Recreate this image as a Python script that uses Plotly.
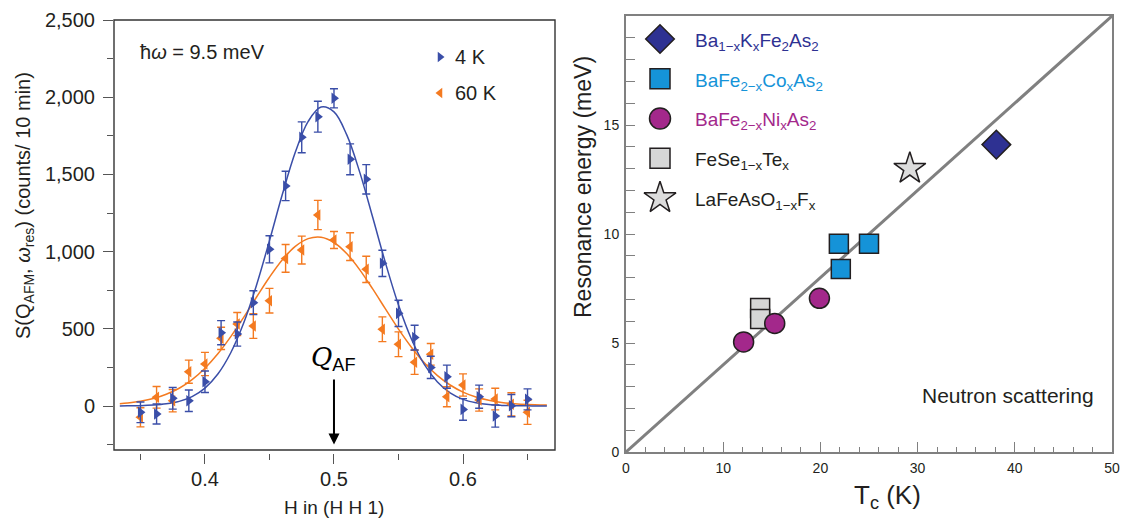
import plotly.graph_objects as go

W, H = 1123, 519

# ---------------- Left panel data ----------------
h_vals = [0.35, 0.3625, 0.375, 0.3875, 0.4, 0.4125, 0.425, 0.4375, 0.45, 0.4625,
          0.475, 0.4875, 0.5, 0.5125, 0.525, 0.5375, 0.55, 0.5625, 0.575, 0.5875,
          0.6, 0.6125, 0.625, 0.6375, 0.65]
s_4k = [-41, -52, 50, 34, 157, 475, 466, 669, 1015, 1425,
        1740, 1874, 1993, 1598, 1468, 924, 600, 443, 250, 190,
        -22, 60, -65, 2, 43]
err_4k = [67, 65, 70, 70, 70, 78, 78, 77, 88, 95,
          100, 100, 62, 100, 95, 85, 85, 80, 72, 75,
          70, 75, 72, 72, 68]
s_60k = [-73, 56, 34, 222, 272, 438, 531, 518, 682, 956,
         1010, 1237, 1075, 1032, 885, 497, 400, 283, 335, 60,
         136, 39, 45, 11, -41]
err_60k = [62, 70, 72, 75, 75, 72, 75, 80, 80, 90,
           90, 95, 55, 90, 85, 80, 80, 78, 70, 65,
           72, 72, 70, 75, 78]

fit_h = [0.334, 0.34, 0.35, 0.36, 0.37, 0.38, 0.39, 0.40, 0.41, 0.42, 0.43, 0.44,
         0.45, 0.46, 0.47, 0.48, 0.49, 0.50, 0.51, 0.52, 0.53, 0.54, 0.55, 0.56,
         0.57, 0.58, 0.59, 0.60, 0.61, 0.62, 0.63, 0.64, 0.65, 0.66, 0.665]
fit_4k = [0, 1, 2, 6, 14, 30, 61, 116, 207, 345, 537, 784,
          1071, 1371, 1643, 1843, 1936, 1905, 1754, 1513, 1222, 924, 654, 434,
          269, 157, 85, 43, 21, 9, 4, 2, 1, 0, 0]
fit_60k = [15, 20, 31, 48, 76, 115, 171, 245, 338, 449, 574, 706,
           834, 947, 1034, 1084, 1093, 1059, 986, 882, 758, 627, 498, 381,
           280, 198, 136, 90, 58, 37, 23, 15, 10, 7, 7]

left_legend = ["4 K", "60 K"]
q_af = 0.5
q_af_tip = -250

# ---------------- Right panel data ----------------
tc_k, e_k = [38.1], [14.1]
tc_co, e_co = [21.9, 25.0, 22.1], [9.55, 9.55, 8.4]
tc_ni, e_ni = [12.1, 15.3, 19.9], [5.05, 5.9, 7.05]
tc_fese, e_fese = [13.8, 13.8], [6.6, 6.1]
tc_la, e_la = [29.2], [13.0]
guide_tc, guide_e = [0, 50], [0, 20]

right_legend = [
    "Ba<sub>1−x</sub>K<sub>x</sub>Fe<sub>2</sub>As<sub>2</sub>",
    "BaFe<sub>2−x</sub>Co<sub>x</sub>As<sub>2</sub>",
    "BaFe<sub>2−x</sub>Ni<sub>x</sub>As<sub>2</sub>",
    "FeSe<sub>1−x</sub>Te<sub>x</sub>",
    "LaFeAsO<sub>1−x</sub>F<sub>x</sub>",
]

BLUE = "#3A4EA8"
ORANGE = "#F47A20"
C_K = "#2E3192"
C_CO = "#1593D8"
C_NI = "#A3288B"
C_GRAY = "#D6D6D6"
C_STAR = "#DCDCDC"
EDGE = "#231F20"
AXG = "#808080"
FONT = "Liberation Sans, Arial, sans-serif"
TXT = "#231F20"

fig = go.Figure()

# ---- left panel traces ----
fig.add_trace(go.Scatter(x=fit_h, y=fit_60k, mode="lines", line=dict(color=ORANGE, width=1.5, shape="spline"),
                         xaxis="x", yaxis="y", showlegend=False))
fig.add_trace(go.Scatter(x=fit_h, y=fit_4k, mode="lines", line=dict(color=BLUE, width=1.5, shape="spline"),
                         xaxis="x", yaxis="y", showlegend=False))
fig.add_trace(go.Scatter(x=h_vals, y=s_60k, mode="markers",
                         marker=dict(symbol="triangle-left", size=10, color=ORANGE, opacity=1),
                         error_y=dict(type="data", array=err_60k, color=ORANGE, thickness=1.4, width=4),
                         xaxis="x", yaxis="y", showlegend=False))
fig.add_trace(go.Scatter(x=h_vals, y=s_4k, mode="markers",
                         marker=dict(symbol="triangle-right", size=10, color=BLUE, opacity=1),
                         error_y=dict(type="data", array=err_4k, color=BLUE, thickness=1.4, width=4),
                         xaxis="x", yaxis="y", showlegend=False))

# ---- right panel traces ----
fig.add_trace(go.Scatter(x=guide_tc, y=guide_e, mode="lines", line=dict(color=AXG, width=3),
                         xaxis="x2", yaxis="y2", showlegend=False))
mk_line = dict(color=EDGE, width=1.5)
fig.add_trace(go.Scatter(x=tc_fese, y=e_fese, mode="markers",
                         marker=dict(symbol="square", size=19, color=C_GRAY, line=mk_line, opacity=1),
                         xaxis="x2", yaxis="y2", showlegend=False))
fig.add_trace(go.Scatter(x=tc_ni, y=e_ni, mode="markers",
                         marker=dict(symbol="circle", size=20, color=C_NI, line=mk_line, opacity=1),
                         xaxis="x2", yaxis="y2", showlegend=False))
fig.add_trace(go.Scatter(x=tc_co, y=e_co, mode="markers",
                         marker=dict(symbol="square", size=19, color=C_CO, line=mk_line, opacity=1),
                         xaxis="x2", yaxis="y2", showlegend=False))
fig.add_trace(go.Scatter(x=tc_k, y=e_k, mode="markers",
                         marker=dict(symbol="diamond", size=22, color=C_K, line=mk_line, opacity=1),
                         xaxis="x2", yaxis="y2", showlegend=False, cliponaxis=False))
fig.add_trace(go.Scatter(x=tc_la, y=e_la, mode="markers",
                         marker=dict(symbol="star", size=24, color=C_STAR, line=mk_line, opacity=1),
                         xaxis="x2", yaxis="y2", showlegend=False))

# ---- manual legends (keys placed by item index on hidden axes) ----
n_r = len(right_legend)
key_symbols = ["diamond", "square", "circle", "square", "star"]
key_sizes = [22, 20, 21, 20, 24]
key_colors = [C_K, C_CO, C_NI, C_GRAY, C_STAR]
for i in range(n_r):
    fig.add_trace(go.Scatter(
        x=[0.5], y=[i], mode="markers",
        marker=dict(symbol=key_symbols[i], size=key_sizes[i], color=key_colors[i], line=mk_line, opacity=1),
        xaxis="x3", yaxis="y3", showlegend=False, cliponaxis=False, hoverinfo="skip"))
for i, (sym, col) in enumerate([("triangle-right", BLUE), ("triangle-left", ORANGE)]):
    fig.add_trace(go.Scatter(
        x=[0.5], y=[i], mode="markers",
        marker=dict(symbol=sym, size=9, color=col, opacity=1),
        xaxis="x4", yaxis="y4", showlegend=False, cliponaxis=False, hoverinfo="skip"))

def py(px):
    return 1 - px / H

def pxx(px):
    return px / W

r_top, r_bot = 39, 198
l_top, l_bot = 57, 93

annotations = []
r_colors = [C_K, C_CO, C_NI, TXT, TXT]
for i, (name, col) in enumerate(zip(right_legend, r_colors)):
    ypix = r_top + i * (r_bot - r_top) / (n_r - 1)
    annotations.append(dict(x=pxx(693), y=py(ypix), xref="paper", yref="paper", text=name,
                            showarrow=False, xanchor="left", yanchor="middle", yshift=-3,
                            font=dict(family=FONT, size=19, color=col)))
for i, name in enumerate(left_legend):
    ypix = l_top + i * (l_bot - l_top)
    annotations.append(dict(x=pxx(453), y=py(ypix), xref="paper", yref="paper", text=name,
                            showarrow=False, xanchor="left", yanchor="middle",
                            font=dict(family=FONT, size=20, color=TXT)))

annotations += [
    dict(x=pxx(138), y=py(52), xref="paper", yref="paper", text="ħ<i>ω</i> = 9.5 meV",
         showarrow=False, xanchor="left", yanchor="middle", font=dict(family=FONT, size=20, color=TXT)),
    dict(x=pxx(24), y=py(206), xref="paper", yref="paper", textangle=-90,
         text="S(Q<sub>AFM</sub>, <i>ω</i><sub>res</sub>) (counts/ 10 min)",
         showarrow=False, xanchor="center", yanchor="middle", font=dict(family=FONT, size=20, color=TXT)),
    dict(x=pxx(334), y=py(507), xref="paper", yref="paper", text="H in (H H 1)",
         showarrow=False, xanchor="center", yanchor="middle", font=dict(family=FONT, size=19, color=TXT)),
    dict(x=q_af, y=q_af_tip, xref="x", yref="y", ax=0, ay=-86,
         text='<span style="font-family:DejaVu Serif"><i>Q</i></span><sub>AF</sub>',
         showarrow=True, arrowhead=2, arrowsize=1.1, arrowwidth=2, arrowcolor="black", borderpad=4,
         font=dict(family=FONT, size=26, color="black")),
    dict(x=pxx(583), y=py(187), xref="paper", yref="paper", textangle=-90,
         text="Resonance energy (meV)", showarrow=False, xanchor="center", yanchor="middle",
         font=dict(family=FONT, size=23, color=TXT)),
    dict(x=pxx(887), y=py(496), xref="paper", yref="paper", text="T<sub>c</sub> (K)",
         showarrow=False, xanchor="center", yanchor="middle", font=dict(family=FONT, size=26, color=TXT)),
    dict(x=pxx(920), y=py(395), xref="paper", yref="paper", text="Neutron scattering",
         showarrow=False, xanchor="left", yanchor="middle", font=dict(family=FONT, size=21, color=TXT)),
]

fig.update_layout(
    width=W, height=H, margin=dict(l=0, r=0, t=0, b=0, autoexpand=False),
    paper_bgcolor="white", plot_bgcolor="white",
    font=dict(family=FONT, color=TXT),
    showlegend=False,
    xaxis=dict(domain=[pxx(114), pxx(555)], range=[0.3295, 0.6713], anchor="free", position=py(453),
               showline=False, showgrid=False, zeroline=False,
               tickmode="array", tickvals=[0.4, 0.5, 0.6], ticktext=["0.4", "0.5", "0.6"],
               ticks="outside", ticklen=10, tickwidth=1.3, tickcolor="#555",
               minor=dict(dtick=0.05, tick0=0.35, ticks="outside", ticklen=6, tickwidth=1.3, tickcolor="#555"),
               tickfont=dict(family=FONT, size=20, color=TXT), ticklabelstandoff=-2),
    yaxis=dict(domain=[py(450), py(20)], range=[-285, 2500], anchor="x",
               showline=False, showgrid=False, zeroline=False,
               tick0=0, dtick=500, tickformat=",d",
               ticks="outside", ticklen=10, tickwidth=1.3, tickcolor="#555",
               minor=dict(dtick=250, tick0=0, ticks="outside", ticklen=6, tickwidth=1.3, tickcolor="#555"),
               tickfont=dict(family=FONT, size=20, color=TXT), ticklabelstandoff=4),
    xaxis2=dict(domain=[pxx(626), pxx(1112)], range=[0, 50], anchor="y2",
                showline=True, linecolor=AXG, linewidth=2, mirror=True,
                showgrid=False, zeroline=False, tick0=0, dtick=10,
                ticks="inside", ticklen=10, tickwidth=1.3, tickcolor=AXG,
                minor=dict(dtick=2, tick0=0, ticks="inside", ticklen=5, tickwidth=1.3, tickcolor=AXG),
                tickfont=dict(family=FONT, size=14, color=TXT), ticklabelstandoff=2),
    yaxis2=dict(domain=[py(452), py(16)], range=[0, 20], anchor="x2",
                showline=True, linecolor=AXG, linewidth=2, mirror=True,
                showgrid=False, zeroline=False,
                tickmode="array", tickvals=[0, 5, 10, 15],
                ticks="inside", ticklen=9, tickwidth=1.3, tickcolor=AXG,
                minor=dict(dtick=1, tick0=0, ticks="inside", ticklen=9, tickwidth=1.3, tickcolor=AXG),
                tickfont=dict(family=FONT, size=14, color=TXT), ticklabelstandoff=2),
    xaxis3=dict(domain=[pxx(640), pxx(680)], range=[0, 1], anchor="y3", visible=False, fixedrange=True),
    yaxis3=dict(domain=[py(r_bot), py(r_top)], range=[n_r - 1, 0], anchor="x3", visible=False, fixedrange=True),
    xaxis4=dict(domain=[pxx(430), pxx(450)], range=[0, 1], anchor="y4", visible=False, fixedrange=True),
    yaxis4=dict(domain=[py(l_bot), py(l_top)], range=[1, 0], anchor="x4", visible=False, fixedrange=True),
    annotations=annotations,
    shapes=[dict(type="rect", xref="x domain", yref="y domain", x0=0, x1=1, y0=0, y1=1,
                 line=dict(color="#333", width=1.4), layer="above")],
)

fig.write_html("out.html", config={"displayModeBar": False},
               post_script="document.body.style.margin='0';document.body.style.overflow='hidden';")
